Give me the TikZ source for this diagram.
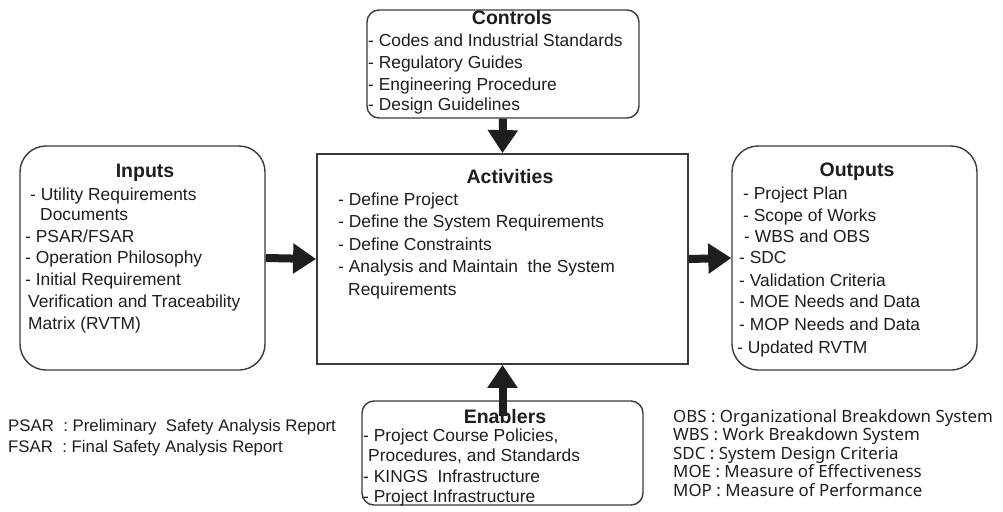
\documentclass[tikz,border=0pt]{standalone}
\usepackage{fontspec}
\setmainfont{Liberation Sans}
\newfontfamily\notefont{Noto Sans}
\usetikzlibrary{arrows.meta}
\definecolor{ink}{HTML}{1E1E1E}
\definecolor{edge}{HTML}{3A3A3A}
\begin{document}
\begin{tikzpicture}[x=1pt,y=-1pt,
  rbox/.style={draw=edge,line width=1.4pt,fill=white,inner sep=0pt},
  sbox/.style={draw=edge,line width=1.8pt,fill=white,inner sep=0pt},
  ttl/.style={font=\fontsize{19.5}{22}\selectfont\bfseries,text=ink,inner sep=0pt,anchor=base},
  item/.style={font=\fontsize{17.4}{20}\selectfont,text=ink,inner sep=0pt,anchor=base west},
  note/.style={font=\fontsize{16.8}{20}\selectfont,text=ink,inner sep=0pt,anchor=base west},
  rnote/.style={font=\notefont\fontsize{16.9}{20}\selectfont,text=ink,inner sep=0pt,anchor=base west},
  flow/.style={line width=8pt,draw=ink,-{Triangle[length=23pt,width=29pt]}}]
\useasboundingbox (0,0) rectangle (1003,511);

% ---- boxes ----
\node[rbox,rounded corners=12pt,minimum width=272pt,minimum height=108pt] (ctrl) at (503,64) {};
\node[rbox,rounded corners=26pt,minimum width=245pt,minimum height=224pt] (inp) at (142.5,258) {};
\node[sbox,minimum width=371pt,minimum height=210pt] (act) at (502.5,259) {};
\node[rbox,rounded corners=26pt,minimum width=245pt,minimum height=224pt] (out) at (854.5,258) {};
\node[rbox,rounded corners=12pt,minimum width=281pt,minimum height=104pt] (enab) at (502.5,453) {};

% ---- Controls ----
\node[ttl] (ctrlT) at (512,25) {Controls};
\node[item] (c1) at (368,47) {- Codes and Industrial Standards};
\node[item] (c2) at (368,68) {- Regulatory Guides};
\node[item] (c3) at (368,90) {- Engineering Procedure};
\node[item] (c4) at (368,110) {- Design Guidelines};

% ---- Inputs ----
\node[ttl] (inpT) at (145,177) {Inputs};
\node[item] (i1) at (30,200) {- Utility Requirements};
\node[item] (i2) at (40,220) {Documents};
\node[item] (i3) at (25,242) {- PSAR/FSAR};
\node[item] (i4) at (25,263) {- Operation Philosophy};
\node[item] (i5) at (25,285) {- Initial Requirement};
\node[item] (i6) at (28,307) {Verification and Traceability};
\node[item] (i7) at (28,329) {Matrix (RVTM)};

% ---- Activities ----
\node[ttl] (actT) at (510,183) {Activities};
\node[item] (a1) at (338,205) {- Define Project};
\node[item] (a2) at (338,227) {- Define the System Requirements};
\node[item] (a3) at (338,250) {- Define Constraints};
\node[item] (a4) at (338,272) {- Analysis and Maintain\ \ the System};
\node[item] (a5) at (348,295) {Requirements};

% ---- Outputs ----
\node[ttl] (outT) at (857,176) {Outputs};
\node[item] (o1) at (743,199) {- Project Plan};
\node[item] (o2) at (743,221) {- Scope of Works};
\node[item] (o3) at (744,242) {- WBS and OBS};
\node[item] (o4) at (739,263) {- SDC};
\node[item] (o5) at (739,286) {- Validation Criteria};
\node[item] (o6) at (739,307) {- MOE Needs and Data};
\node[item] (o7) at (739,330) {- MOP Needs and Data};
\node[item] (o8) at (737,353) {- Updated RVTM};

% ---- Enablers ----
\node[ttl] (enabT) at (505,423) {Enablers};
\node[item] (e1) at (363,441) {- Project Course Policies,};
\node[item] (e2) at (368,461) {Procedures, and Standards};
\node[item] (e3) at (363,482) {- KINGS\ \ Infrastructure};
\node[item] (e4) at (363,502) {- Project Infrastructure};

% ---- abbreviations ----
\node[note] (n1) at (8,431) {PSAR\ \ : Preliminary\ \ Safety Analysis Report};
\node[note] (n2) at (8,452) {FSAR\ \ : Final Safety Analysis Report};
\node[rnote] (r1) at (673,422) {OBS : Organizational Breakdown System};
\node[rnote] (r2) at (673,440) {WBS : Work Breakdown System};
\node[rnote] (r3) at (673,459) {SDC : System Design Criteria};
\node[rnote] (r4) at (673,477) {MOE : Measure of Effectiveness};
\node[rnote] (r5) at (673,496) {MOP : Measure of Performance};

% ---- flow arrows ----
\draw[flow] (ctrl.south) -- (act.north);
\draw[flow] (inp.east) -- (act.west);
\draw[flow] (act.east) -- (out.west);
\draw[flow,shorten <=-16pt] (enab.north) -- (act.south);
\end{tikzpicture}
\end{document}
